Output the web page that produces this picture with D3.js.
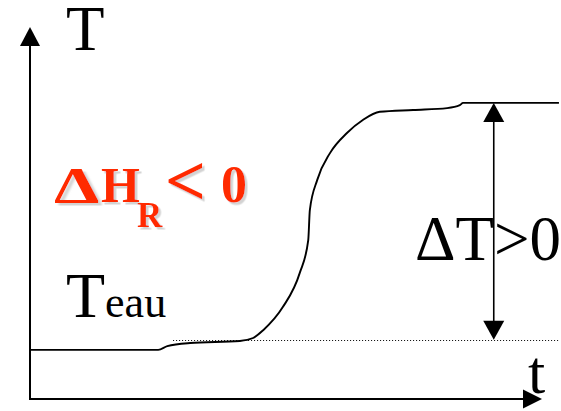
<!DOCTYPE html>
<html><head><meta charset="utf-8">
<script src="https://cdn.jsdelivr.net/npm/d3@7"></script>
<style>
html,body{margin:0;padding:0;background:#fff;}svg{display:block;}
</style>
</head><body>
<script>
// Temperature curve (t in %, T in %)
const curveT = [0, 24.2, 25.9, 30.2, 39.6, 42.1, 44.0, 47.7, 50.9, 52.5, 52.8, 54.2, 56.6, 59.8, 62.8, 66.0, 72.3, 78.7, 81.1, 81.7, 99.8];
const curveTemp = [13.2, 13.2, 14.2, 15.05, 15.6, 16.4, 18.5, 24.7, 33.9, 42.7, 50.8, 58.9, 66.1, 71.5, 75.0, 77.2, 77.7, 78.2, 79.0, 79.6, 79.6];
const tEau = 15.9;          // water temperature level (dotted)
const dottedStart = 27;     // t where dotted line starts
const deltaAt = 87.5;       // t of the ΔT double arrow
const Tfinal = 79.6;
const labels = {T: "T", t: "t", eau: "eau", dT: "ΔT>0"};

const W = 561, H = 411;
const x = d3.scaleLinear().domain([0, 100]).range([30, 560]);
const y = d3.scaleLinear().domain([0, 100]).range([399, 27]);
const FONT = '"Liberation Serif", "Times New Roman", serif';
const RED = "#ff2a00";

const svg = d3.select("body").append("svg").attr("width", W).attr("height", H);
const defs = svg.append("defs");
const f = defs.append("filter").attr("id", "sh").attr("x", "-5%").attr("y", "-5%").attr("width", "115%").attr("height", "125%");
f.append("feDropShadow").attr("dx", 2.5).attr("dy", 2.5).attr("stdDeviation", 0.6).attr("flood-color", "#c8c8c8").attr("flood-opacity", 0.8);

// axes
svg.append("line").attr("x1", x(0)).attr("y1", y(0)).attr("x2", x(0)).attr("y2", y(100) + 15)
  .attr("stroke", "#000").attr("stroke-width", 2);
svg.append("path").attr("d", `M${x(0)},${y(100)} L${x(0)-10},${y(100)+19} L${x(0)+10},${y(100)+19} Z`).attr("fill", "#000");
const xEnd = x(96.6);
svg.append("line").attr("x1", x(0) - 1).attr("y1", y(0)).attr("x2", xEnd - 15).attr("y2", y(0))
  .attr("stroke", "#000").attr("stroke-width", 2);
svg.append("path").attr("d", `M${xEnd},${y(0)} L${xEnd-19},${y(0)-9.5} L${xEnd-19},${y(0)+9.5} Z`).attr("fill", "#000");

// dotted water level
const yd = Math.round(y(tEau)) + 0.5;
svg.append("line").attr("x1", x(dottedStart)).attr("x2", x(100)).attr("y1", yd).attr("y2", yd)
  .attr("stroke", "#000").attr("stroke-width", 1).attr("stroke-dasharray", "1,2");

// curve
const pts = curveT.map((t, i) => [t, curveTemp[i]]);
svg.append("path").datum(pts)
  .attr("d", d3.line().x(d => x(d[0])).y(d => y(d[1])).curve(d3.curveMonotoneX))
  .attr("fill", "none").attr("stroke", "#000").attr("stroke-width", 1.9);

// double arrow
const ax = x(deltaAt), yTop = y(Tfinal), yBot = y(tEau);
svg.append("line").attr("x1", ax).attr("x2", ax).attr("y1", yTop + 15).attr("y2", yBot - 15)
  .attr("stroke", "#000").attr("stroke-width", 1.6);
svg.append("path").attr("d", `M${ax},${yTop} L${ax-10.5},${yTop+19} L${ax+10.5},${yTop+19} Z`).attr("fill", "#000");
svg.append("path").attr("d", `M${ax},${yBot} L${ax-10.5},${yBot-19} L${ax+10.5},${yBot-19} Z`).attr("fill", "#000");

// labels
function txt(xp, yp, size) {
  return svg.append("text").attr("x", xp).attr("y", yp).attr("font-size", size).style("font-family", FONT);
}
txt(66, 50, 63).text(labels.T);
txt(528, 393, 62).text(labels.t);
txt(415, 260, 63).text(labels.dT);
const te = txt(66, 317, 64);
te.append("tspan").text("T");
te.append("tspan").attr("font-size", 44).text(labels.eau);

// red ΔH_R < 0 with light shadow (wide Δ like the Symbol-font glyph)
svg.append("text").attr("transform", "translate(54,202) scale(1.42,1)")
  .style("font-family", FONT).attr("font-weight", "bold").attr("font-size", 51)
  .attr("fill", RED).attr("filter", "url(#sh)").text("Δ");
const r = svg.append("text").attr("y", 202).style("font-family", FONT).attr("font-weight", "bold")
  .attr("fill", RED).attr("filter", "url(#sh)");
r.append("tspan").attr("x", 101).attr("font-size", 50).text("H");
r.append("tspan").attr("x", 137).attr("y", 227).attr("font-size", 35).text("R");
r.append("tspan").attr("x", 165).attr("y", 205).attr("font-size", 72).text("<");
r.append("tspan").attr("x", 221).attr("y", 202).attr("font-size", 52).text("0");
</script>
</body></html>
